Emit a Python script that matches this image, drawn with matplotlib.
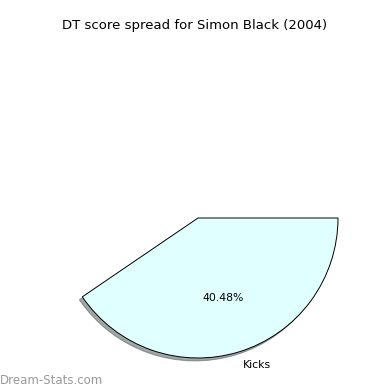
#!/usr/bin/env python3

import matplotlib
matplotlib.use('Agg')
import matplotlib.pyplot as plt
from matplotlib.patches import Shadow

# data
categories = ['Kicks', '']
shares = [40.48, 59.52]
colors = ['lightcyan', 'white']

fig = plt.figure(figsize=(3.9, 3.9), dpi=100)
ax = fig.add_axes([23/390, -3/390, 350/390, 350/390])

wedges, texts, autotexts = ax.pie(shares, labels=categories, colors=colors,
                                  autopct='%1.2f%%', startangle=0,
                                  counterclock=False,
                                  wedgeprops={'edgecolor': 'black', 'linewidth': 0.7},
                                  textprops={'fontsize': 7.8})

# only the kicks wedge is shown
wedges[1].set_visible(False)
autotexts[1].set_visible(False)
texts[1].set_visible(False)

shad = Shadow(wedges[0], -0.015, -0.015)
shad.set_zorder(wedges[0].get_zorder() - 0.1)
ax.add_patch(shad)

ax.set_xlim(-1.25, 1.25)
ax.set_ylim(-1.25, 1.25)
ax.set_aspect('equal')
ax.axis('off')

fig.text(0.5, 1 - 25/390, 'DT score spread for Simon Black (2004)',
         ha='center', va='center', fontsize=9.5)
fig.text(0.0, 1 - 380/390, 'Dream-Stats.com', ha='left', va='center',
         fontsize=8.5, color='#999999')

fig.savefig('out.png', dpi=100)
